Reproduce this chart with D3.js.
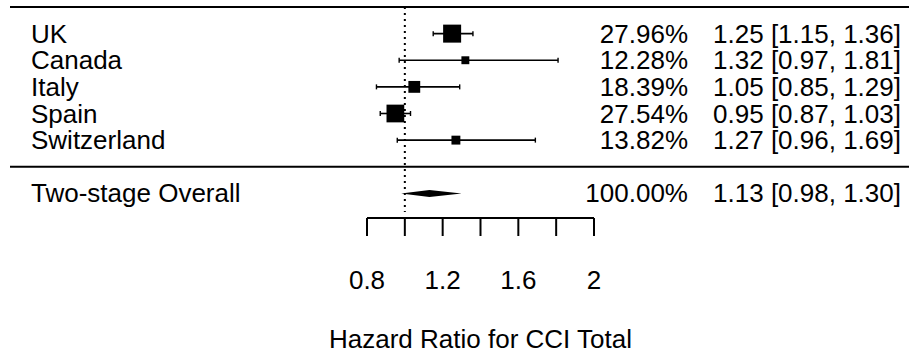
<!DOCTYPE html>
<html>
<head>
<meta charset="utf-8">
<script src="https://cdn.jsdelivr.net/npm/d3@7"></script>
<style>
  body { margin: 0; background: #fff; }
  svg text { font-family: "Liberation Sans", Arial, sans-serif; fill: #000; }
</style>
</head>
<body>
<svg id="chart"></svg>
<script>
// study rows
const studies = ["UK", "Canada", "Italy", "Spain", "Switzerland"];
const estimates = [1.25, 1.32, 1.05, 0.95, 1.27];
const lower = [1.15, 0.97, 0.85, 0.87, 0.96];
const upper = [1.36, 1.81, 1.29, 1.03, 1.69];
const weights = [27.96, 12.28, 18.39, 27.54, 13.82];
const rowPos = [5, 4, 3, 2, 1];

// pooled estimate
const overallLabel = "Two-stage Overall";
const overall = { est: 1.13, lo: 0.98, hi: 1.30, weight: 100.00, pos: -1 };

const tickValues = [0.8, 1.0, 1.2, 1.4, 1.6, 1.8, 2.0];
const tickLabels = [0.8, 1.2, 1.6, 2];
const refLine = 1;
const xTitle = "Hazard Ratio for CCI Total";

const width = 909, height = 354;
const fontSize = 26;

const svg = d3.select("#chart")
  .attr("width", width)
  .attr("height", height);

const x = d3.scaleLinear().domain([0.8, 2]).range([367, 594]);
const y = d3.scaleLinear().domain([6, -2]).range([7, 220]);

// square size scaled by weight
const maxW = d3.max(weights);
const sq = d3.scaleLinear().domain([0, maxW]).range([0, 18]);

const fmt2 = d3.format(".2f");

// horizontal rules
svg.selectAll(".rule")
  .data([6, 0])
  .enter().append("line")
  .attr("x1", 10).attr("x2", width)
  .attr("y1", d => y(d)).attr("y2", d => y(d))
  .attr("stroke", "#000")
  .attr("stroke-width", 2);

// reference line
svg.append("line")
  .attr("x1", x(refLine)).attr("x2", x(refLine))
  .attr("y1", y(6)).attr("y2", y(-1.7))
  .attr("stroke", "#000")
  .attr("stroke-width", 2)
  .attr("stroke-dasharray", "2,4");

// study rows
const rows = studies.map((s, i) => ({
  name: s, est: estimates[i], lo: lower[i], hi: upper[i], w: weights[i], pos: rowPos[i]
}));

const g = svg.selectAll(".row")
  .data(rows)
  .enter().append("g")
  .attr("class", "row");

g.append("line")
  .attr("x1", d => x(d.lo)).attr("x2", d => x(d.hi))
  .attr("y1", d => y(d.pos)).attr("y2", d => y(d.pos))
  .attr("stroke", "#000").attr("stroke-width", 1.6);

g.append("line")
  .attr("x1", d => x(d.lo)).attr("x2", d => x(d.lo))
  .attr("y1", d => y(d.pos) - 2.5).attr("y2", d => y(d.pos) + 2.5)
  .attr("stroke", "#000").attr("stroke-width", 1.4);

g.append("line")
  .attr("x1", d => x(d.hi)).attr("x2", d => x(d.hi))
  .attr("y1", d => y(d.pos) - 2.5).attr("y2", d => y(d.pos) + 2.5)
  .attr("stroke", "#000").attr("stroke-width", 1.4);

g.append("rect")
  .attr("x", d => x(d.est) - sq(d.w) / 2)
  .attr("y", d => y(d.pos) - sq(d.w) / 2)
  .attr("width", d => sq(d.w))
  .attr("height", d => sq(d.w))
  .attr("fill", "#000");

g.append("text")
  .attr("x", 31)
  .attr("y", d => y(d.pos) + 9)
  .style("font-size", fontSize + "px")
  .text(d => d.name);

g.append("text")
  .attr("x", 688)
  .attr("y", d => y(d.pos) + 9)
  .attr("text-anchor", "end")
  .style("font-size", fontSize + "px")
  .text(d => fmt2(d.w) + "%");

g.append("text")
  .attr("x", 901)
  .attr("y", d => y(d.pos) + 9)
  .attr("text-anchor", "end")
  .style("font-size", fontSize + "px")
  .text(d => `${fmt2(d.est)} [${fmt2(d.lo)}, ${fmt2(d.hi)}]`);

// overall diamond
const oy = y(overall.pos);
svg.append("polygon")
  .attr("points", [
    [x(overall.lo), oy], [x(overall.est), oy - 3.5],
    [x(overall.hi), oy], [x(overall.est), oy + 3.5]
  ].map(p => p.join(",")).join(" "))
  .attr("fill", "#000");

svg.append("text")
  .attr("x", 31).attr("y", oy + 9)
  .style("font-size", fontSize + "px")
  .text(overallLabel);

svg.append("text")
  .attr("x", 688).attr("y", oy + 9)
  .attr("text-anchor", "end")
  .style("font-size", fontSize + "px")
  .text(fmt2(overall.weight) + "%");

svg.append("text")
  .attr("x", 901).attr("y", oy + 9)
  .attr("text-anchor", "end")
  .style("font-size", fontSize + "px")
  .text(`${fmt2(overall.est)} [${fmt2(overall.lo)}, ${fmt2(overall.hi)}]`);

// axis
const axisY = y(-2) - 2;
const axis = svg.append("g").attr("transform", `translate(0,${axisY})`);
axis.append("line")
  .attr("x1", x(0.8)).attr("x2", x(2))
  .attr("stroke", "#000").attr("stroke-width", 2);
axis.selectAll(".tick")
  .data(tickValues)
  .enter().append("line")
  .attr("x1", d => x(d)).attr("x2", d => x(d))
  .attr("y1", 0).attr("y2", 18)
  .attr("stroke", "#000").attr("stroke-width", 2);
axis.selectAll(".tlab")
  .data(tickLabels)
  .enter().append("text")
  .attr("x", d => x(d))
  .attr("y", 71)
  .attr("text-anchor", "middle")
  .style("font-size", fontSize + "px")
  .text(d => d);

svg.append("text")
  .attr("x", x(1.4))
  .attr("y", 348)
  .attr("text-anchor", "middle")
  .style("font-size", fontSize + "px")
  .text(xTitle);
</script>
</body>
</html>
